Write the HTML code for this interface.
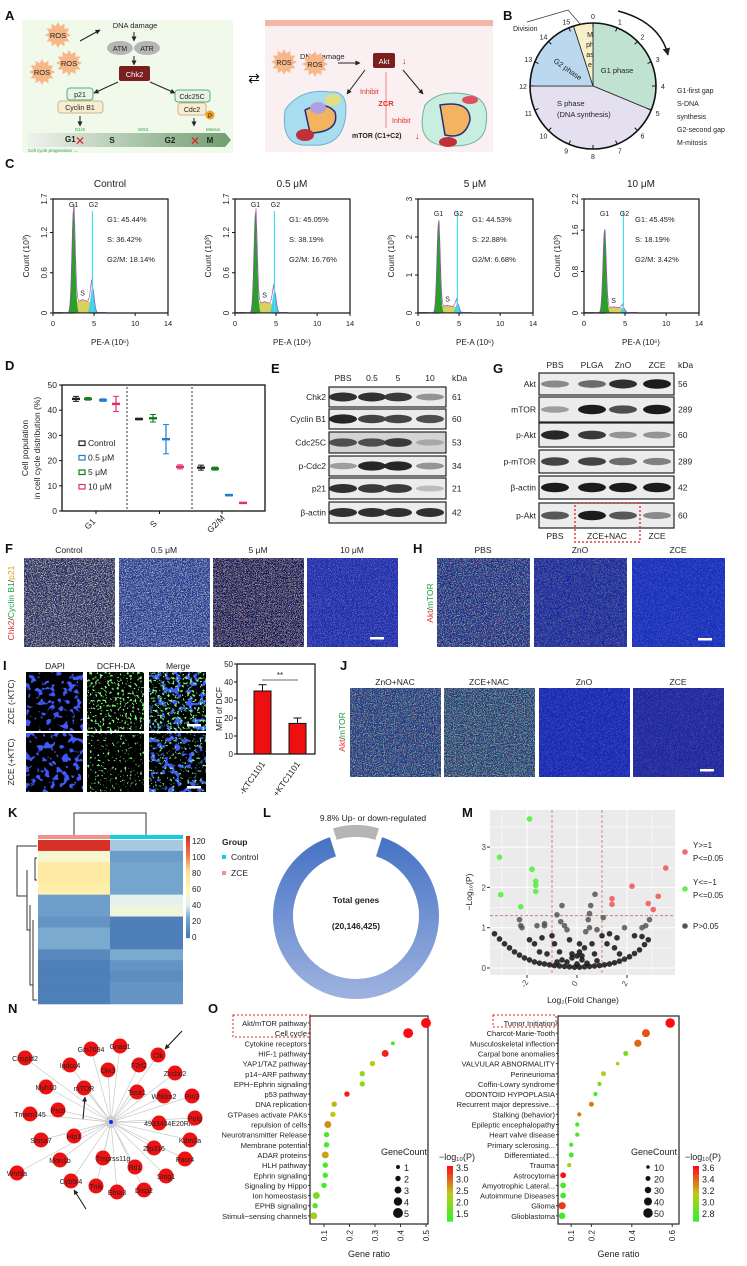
<!DOCTYPE html>
<html><head><meta charset="utf-8"><style>
html,body{margin:0;padding:0;background:#fff}
svg{display:block;font-family:"Liberation Sans",sans-serif}
</style></head><body>
<svg id="fig" width="747" height="1266" viewBox="0 0 747 1266" xmlns="http://www.w3.org/2000/svg">
<defs>
<marker id="ar" viewBox="0 0 10 10" refX="9" refY="5" markerWidth="5" markerHeight="5" orient="auto"><path d="M0,0L10,5L0,10z" fill="#222"/></marker>
</defs>
<g id="root"></g>
</svg>
<script>
// ---------------- DATA ----------------
const flowConds=["Control","0.5 μM","5 μM","10 μM"];
const flowG1=[1.55,1.5,2.4,1.6];
const flowG2=[0.38,0.33,0.25,0.1];
const flowS=[0.2,0.17,0.2,0.12];
const flowYMax=[1.7,1.7,3.0,2.2];
const flowYTicks=[[0,0.6,1.2,1.7],[0,0.6,1.2,1.7],[0,1.0,2.0,3.0],[0,0.8,1.6,2.2]];
const flowStats=[["G1: 45.44%","S: 36.42%","G2/M: 18.14%"],["G1: 45.05%","S: 38.19%","G2/M: 16.76%"],["G1: 44.53%","S: 22.88%","G2/M: 6.68%"],["G1: 45.45%","S: 18.19%","G2/M: 3.42%"]];
const flowXTicks=[0,5,10,14];

const dPhases=["G1","S","G2/M"];
const dGroups=["Control","0.5 μM","5 μM","10 μM"];
const dMeanG1=[44.5,44.5,44.0,42.5];
const dErrG1=[1.0,0.5,0.5,3.0];
const dMeanS=[36.5,36.8,28.5,17.5];
const dErrS=[0.3,1.5,5.8,0.8];
const dMeanG2=[17.2,16.8,6.3,3.2];
const dErrG2=[1.0,0.6,0.3,0.2];
const dOrderColors=["#222","#1a7a1a","#1f7fd0","#e0306a"];
const dYTicks=[0,10,20,30,40,50];

const eLanes=["PBS","0.5","5","10"];
const eRows=["Chk2","Cyclin B1","Cdc25C","p-Cdc2","p21","β-actin"];
const eKda=["61","60","53","34","21","42"];
const eBands=[[0.9,0.9,0.85,0.4],[0.95,0.8,0.8,0.75],[0.75,0.75,0.85,0.3],[0.35,0.95,0.95,0.4],[0.9,0.85,0.85,0.2],[0.9,0.9,0.9,0.9]];
const gLanes=["PBS","PLGA","ZnO","ZCE"];
const gRows=["Akt","mTOR","p-Akt","p-mTOR","β-actin","p-Akt"];
const gKda=["56","289","60","289","42","60"];
const gBands=[[0.45,0.6,0.9,1.0],[0.35,1.0,0.75,1.0],[0.95,0.85,0.4,0.4],[0.8,0.8,0.6,0.5],[1,1,1,1],[0.7,1.0,0.7,0.45]];

const iCats=["-KTC1101","+KTC1101"];
const iVals=[35,17];
const iErrs=[3.5,3];
const iTicks=[0,10,20,30,40,50];

const kZCE=[120,50,70,70,66,22,22,16,26,26,10,5,5,5,5];
const kCtrl=[32,20,25,25,25,42,48,5,5,5,26,16,12,16,16];
const kTicks=[0,20,40,60,80,100,120];

const lUpFrac=0.098;

const mGreenX=[-3.1,-3.05,-1.9,-1.8,-1.65,-1.65,-1.65,-2.25];
const mGreenY=[2.75,1.82,3.7,2.45,2.15,2.05,1.9,1.52];
const mRedX=[1.4,1.4,2.2,3.55,3.25,2.85,3.05];
const mRedY=[1.72,1.58,2.03,2.48,1.78,1.6,1.45];
const mGrayX=[-2.3,-2.25,-2.2,-1.6,-1.3,-1.3,-0.8,-0.65,-0.5,-0.4,-0.6,0.5,0.45,0.55,0.72,1.05,0.5,0.35,0.8,1.0,1.3,1.6,1.9,2.3,2.6,2.9,2.75,2.6,-1.9,-1.7,-1.4,-1.0,-0.9,-0.3,0.1,0.3,0.6,1.2,1.5,-1.5,-1.2,-0.7,-0.2,0.2,0.7,1.7,-3.3,-3.1,-2.9,-2.7,-2.5,-2.3,-2.1,-1.9,-1.7,-1.5,-1.3,-1.1,-0.9,-0.7,-0.5,-0.3,-0.1,0.1,0.3,0.5,0.7,0.9,1.1,1.3,1.5,1.7,1.9,2.1,2.3,2.5,2.7,2.85,-0.4,0,0.2,-0.2,0.4,-0.6,0.1,0,-0.8,0.8];
const mGrayY=[1.2,1.05,1.0,1.05,1.1,1.05,1.32,1.15,1.05,0.95,1.55,1.35,1.2,1.55,1.83,1.25,1.0,0.9,0.95,0.8,0.85,0.75,1.0,0.8,1.0,1.2,1.05,0.78,0.7,0.6,0.75,0.8,0.6,0.7,0.6,0.5,0.6,0.6,0.5,0.4,0.35,0.4,0.35,0.3,0.35,0.35,0.85,0.72,0.6,0.5,0.4,0.32,0.25,0.2,0.15,0.12,0.1,0.08,0.06,0.05,0.04,0.03,0.02,0.02,0.03,0.04,0.05,0.06,0.08,0.1,0.13,0.17,0.22,0.28,0.36,0.45,0.58,0.7,0.15,0.1,0.2,0.25,0.12,0.2,0.4,0.3,0.15,0.18];
const mYTicks=[0,1,2,3];
const mXTicks=[-2,0,2];

const nCenter=[111,1122];
const nNames=["Crispld2","Igdcc4","Gm7694","Gnao1","Clk","F2rl2","Dlx3","Zcchc2","Myh10","mTOR","Tssk1","Wfikkn2","Rin3","Tmem145","Prcb","4933434E20Rik","Polg","Shisa7","Hip1","Kdm2a","Zfp316","Pacr4","Mon1b","Tmprss11g","Rtl1","Wnt9a","Sntg1","Cyb5r4","Tnik","Efna3","Disp2"];
const nX=[25,70,91,120,158,139,108,175,46,84,137,164,192,30,58,159,195,41,74,190,154,185,60,103,135,17,166,71,96,117,144];
const nY=[1058,1065,1049,1046,1055,1065,1070,1073,1087,1088,1092,1096,1096,1114,1110,1123,1118,1140,1136,1140,1148,1159,1160,1158,1167,1173,1176,1181,1186,1192,1190];

const o1Terms=["Akt/mTOR pathway","Cell cycle","Cytokine receptors","HIF-1 pathway","YAP1/TAZ pathway","p14−ARF pathway","EPH−Ephrin signaling","p53 pathway","DNA replication","GTPases activate PAKs","repulsion of cells","Neurotransmitter Release","Membrane potential","ADAR proteins","HLH pathway","Ephrin signaling","Signaling by Hippo","Ion homeostasis","EPHB signaling","Stimuli−sensing channels"];
const o1Ratio=[0.5,0.43,0.37,0.34,0.29,0.25,0.25,0.19,0.14,0.135,0.115,0.11,0.11,0.105,0.105,0.105,0.10,0.07,0.065,0.06];
const o1Count=[5,5,1,3,2,2,2,2,2,2,3,2,2,3,2,2,2,3,2,3];
const o1P=[3.5,3.5,1.6,3.4,2.5,2.2,2.2,3.4,2.6,2.5,2.8,1.6,1.6,2.7,1.6,1.6,1.6,2.0,1.7,2.3];
const o1XTicks=[0.1,0.2,0.3,0.4,0.5];
const o1Leg=[1,2,3,4,5];
const o1CLabels=["3.5","3.0","2.5","2.0","1.5"];
const o2Terms=["Tumor Initiation","Charcot-Marie-Tooth","Musculoskeletal inflection","Carpal bone anomalies","VALVULAR ABNORMALITY","Perineurioma","Coffin-Lowry syndrome","ODONTOID HYPOPLASIA","Recurrent major depressive...","Stalking (behavior)","Epileptic encephalopathy","Heart valve disease","Primary sclerosing...","Differentiated...","Trauma","Astrocytoma","Amyotrophic Lateral...","Autoimmune Diseases","Glioma","Glioblastoma"];
const o2Ratio=[0.59,0.47,0.43,0.37,0.33,0.26,0.24,0.22,0.2,0.14,0.13,0.13,0.1,0.1,0.09,0.06,0.06,0.06,0.055,0.055];
const o2Count=[50,40,35,20,10,20,15,15,20,15,15,15,15,20,15,25,25,25,35,30];
const o2P=[3.6,3.45,3.4,3.0,3.1,3.2,3.0,2.85,3.35,3.35,2.85,2.85,2.85,2.85,3.1,3.6,2.85,2.85,3.5,2.85];
const o2XTicks=[0.1,0.2,0.4,0.6];
const o2Leg=[10,20,30,40,50];
const o2CLabels=["3.6","3.4","3.2","3.0","2.8"];

// ---------------- HELPERS ----------------
const NS="http://www.w3.org/2000/svg";
const root=document.getElementById('root');
function mk(tag,attrs,parent){const e=document.createElementNS(NS,tag);for(const k in attrs)e.setAttribute(k,attrs[k]);(parent||root).appendChild(e);return e;}
function tx(x,y,s,size,opt,parent){opt=opt||{};const e=mk('text',{x:x,y:y,'font-size':size,fill:opt.fill||'#222','text-anchor':opt.anchor||'start','font-weight':opt.bold?'bold':'normal'},parent);if(opt.rot!==undefined)e.setAttribute('transform','rotate('+opt.rot+' '+x+' '+y+')');e.textContent=s;return e;}
function panelLetter(x,y,s){const e=tx(x,y,s,13,{bold:true,fill:'#111'});

}
const defs=document.querySelector('defs');
let fid=0;
function noiseFilter(freq,seed,r,g,b,a,t){const id='nf'+(fid++);const f=mk('filter',{id:id,x:0,y:0,width:1,height:1},defs);mk('feTurbulence',{type:'fractalNoise',baseFrequency:freq,numOctaves:2,seed:seed},f);mk('feColorMatrix',{type:'matrix',values:'0 0 0 0 '+r+' 0 0 0 0 '+g+' 0 0 0 0 '+b+' '+a+' 0 0 0 '+(-t)},f);return id;}
function micro(x,y,w,h,base,layers,name){const g=mk('g',{});


mk('rect',{x:x,y:y,width:w,height:h,fill:base},g);layers.forEach((L,i)=>{const id=noiseFilter(L[0],L[1]+i*7,L[2],L[3],L[4],L[5],L[6]);mk('rect',{x:x,y:y,width:w,height:h,fill:'#fff',filter:'url(#'+id+')','opacity':L[7]===undefined?0.85:L[7]},g);});return g;}
function scaleBar(x,y){mk('rect',{x:x,y:y,width:14,height:2.5,fill:'#fff'});}
function pColor(v,lo,hi){const t=Math.max(0,Math.min(1,(v-lo)/(hi-lo)));let r,g,b;if(t<0.5){const u=t/0.5;r=50+u*(190-50);g=240-u*40;b=40-u*20;}else{const u=(t-0.5)/0.5;r=190+u*65;g=200-u*190;b=20;}return 'rgb('+(r|0)+','+(g|0)+','+(b|0)+')';}
function heatColor(v){const stops=[[0,[69,117,180]],[25,[116,165,205]],[40,[225,240,245]],[55,[254,250,190]],[80,[254,224,144]],[100,[244,109,67]],[120,[215,48,39]]];for(let i=1;i<stops.length;i++){if(v<=stops[i][0]){const a=stops[i-1],b=stops[i];const u=(v-a[0])/(b[0]-a[0]);return 'rgb('+[0,1,2].map(k=>Math.round(a[1][k]+u*(b[1][k]-a[1][k]))).join(',')+')';}}return 'rgb(215,48,39)';}

// ---------------- PANEL A ----------------
panelLetter(5,20,"A");
(function(){
const g=mk('g',{});


mk('rect',{x:22,y:20,width:211,height:133,fill:'#f1f9ea'},g);
function ros(x,y){const pts=[];for(let i=0;i<24;i++){const r=i%2?9:13;const a=i*Math.PI/12;pts.push((x+r*Math.cos(a)).toFixed(1)+','+(y+r*Math.sin(a)).toFixed(1));}mk('polygon',{points:pts.join(' '),fill:'#f7b889'},g);tx(x,y+3,'ROS',7.5,{anchor:'middle'},g);}
ros(58,35);ros(42,72);ros(69,63);
tx(135,28,'DNA damage',7.5,{anchor:'middle'},g);
mk('line',{x1:80,y1:41,x2:100,y2:30,stroke:'#222','marker-end':'url(#ar)'},g);
mk('line',{x1:134,y1:32,x2:134,y2:41,stroke:'#222','marker-end':'url(#ar)'},g);
mk('ellipse',{cx:120,cy:48,rx:13,ry:7,fill:'#b5b5b5'},g);tx(120,51,'ATM',7,{anchor:'middle'},g);
mk('ellipse',{cx:147,cy:48,rx:13,ry:7,fill:'#b5b5b5'},g);tx(147,51,'ATR',7,{anchor:'middle'},g);
mk('line',{x1:134,y1:56,x2:134,y2:65,stroke:'#222','marker-end':'url(#ar)'},g);
mk('rect',{x:119,y:66,width:31,height:15,rx:2,fill:'#7a1f1f'},g);tx(134.5,77,'Chk2',7.5,{anchor:'middle',fill:'#fff'},g);
mk('line',{x1:118,y1:82,x2:94,y2:93,stroke:'#222','marker-end':'url(#ar)'},g);
mk('line',{x1:150,y1:82,x2:175,y2:93,stroke:'#222','marker-end':'url(#ar)'},g);
mk('rect',{x:67,y:88,width:26,height:12,rx:3,fill:'#e6f5e6',stroke:'#5aa97a'},g);tx(80,97,'p21',7,{anchor:'middle'},g);
mk('rect',{x:58,y:101,width:45,height:12,rx:3,fill:'#f7edd3',stroke:'#c8b890'},g);tx(80,110,'Cyclin B1',7,{anchor:'middle'},g);
mk('rect',{x:175,y:90,width:35,height:12,rx:3,fill:'#e6f5e6',stroke:'#5aa97a'},g);tx(192,99,'Cdc25C',7,{anchor:'middle'},g);
mk('rect',{x:178,y:103,width:28,height:12,rx:3,fill:'#f7edd3',stroke:'#c8b890'},g);tx(192,112,'Cdc2',7,{anchor:'middle'},g);
mk('circle',{cx:210,cy:115,r:4.5,fill:'#f0a020'},g);tx(210,118,'P',6,{anchor:'middle'},g);
mk('line',{x1:80,y1:116,x2:80,y2:126,stroke:'#222','marker-end':'url(#ar)'},g);
mk('line',{x1:194,y1:118,x2:194,y2:126,stroke:'#222','marker-end':'url(#ar)'},g);
const gr=mk('linearGradient',{id:'cyc'},defs);mk('stop',{offset:'0','stop-color':'#f0f3ee'},gr);mk('stop',{offset:'1','stop-color':'#6f9e6f'},gr);
mk('polygon',{points:'27,133 225,133 231,140 225,147 27,147',fill:'url(#cyc)'},g);
tx(65,142,'G1',8,{bold:true},g);tx(112,143,'S',8,{bold:true,anchor:'middle'},g);tx(170,143,'G2',8,{bold:true,anchor:'middle'},g);tx(210,143,'M',8,{bold:true,anchor:'middle'},g);
tx(80,131,'G1/S',4.5,{fill:'#2a9a4a',anchor:'middle'},g);tx(143,131,'S/G2',4.5,{fill:'#2a9a4a',anchor:'middle'},g);tx(213,131,'Mitosis',4.5,{fill:'#2a9a4a',anchor:'middle'},g);
tx(80,145,'✕',12,{fill:'#e02020',anchor:'middle'},g);tx(195,145,'✕',12,{fill:'#e02020',anchor:'middle'},g);
tx(28,152,'Cell cycle progression →',4.5,{fill:'#2a9a4a'},g);
tx(254,83,'⇄',14,{anchor:'middle',fill:'#111'},g);
mk('rect',{x:265,y:20,width:228,height:132,fill:'#fbf0f1'},g);
mk('rect',{x:265,y:20,width:228,height:6,fill:'#f3b6a8'},g);
tx(300,59,'DNA damage',7.5,{},g);
mk('line',{x1:338,y1:63,x2:360,y2:63,stroke:'#222','marker-end':'url(#ar)'},g);
mk('rect',{x:373,y:53,width:22,height:15,rx:2,fill:'#7a1f1f'},g);tx(384,64,'Akt',7.5,{anchor:'middle',fill:'#fff'},g);
tx(402,64,'↓',9,{fill:'#e02020'},g);
(function(){const pts=[];for(let i=0;i<24;i++){const r=i%2?9:13;const a=i*Math.PI/12;pts.push((284+r*Math.cos(a)).toFixed(1)+','+(62+r*Math.sin(a)).toFixed(1));}mk('polygon',{points:pts.join(' '),fill:'#f7b889'},g);const p2=[];for(let i=0;i<24;i++){const r=i%2?9:13;const a=i*Math.PI/12;p2.push((315+r*Math.cos(a)).toFixed(1)+','+(64+r*Math.sin(a)).toFixed(1));}mk('polygon',{points:p2.join(' '),fill:'#f7b889'},g);})();
tx(284,65,'ROS',7,{anchor:'middle'},g);tx(315,67,'ROS',7,{anchor:'middle'},g);
mk('line',{x1:365,y1:70,x2:347,y2:94,stroke:'#222','marker-end':'url(#ar)'},g);
mk('line',{x1:403,y1:70,x2:423,y2:94,stroke:'#222','marker-end':'url(#ar)'},g);
mk('line',{x1:386,y1:72,x2:386,y2:128,stroke:'#f08080'},g);
tx(360,94,'Inhibit',7,{fill:'#e03030'},g);tx(386,106,'ZCR',7.5,{fill:'#e03030',anchor:'middle',bold:true},g);tx(392,123,'Inhibit',7,{fill:'#e03030'},g);
tx(352,138,'mTOR (C1+C2)',7,{bold:true},g);tx(415,139,'↓',9,{fill:'#e02020'},g);
mk('path',{d:'M285,110 Q300,88 330,92 Q350,90 345,120 Q340,148 310,145 Q280,148 285,110z',fill:'#a8dcef',stroke:'#6fb0d0'},g);
mk('path',{d:'M305,110 Q325,100 335,112 Q340,132 310,133z',fill:'#f4b35e',stroke:'#203080','stroke-width':1.5},g);
mk('ellipse',{cx:305,cy:135,rx:9,ry:6,fill:'#c0303a'},g);mk('ellipse',{cx:333,cy:100,rx:8,ry:6,fill:'#e0e080'},g);
mk('ellipse',{cx:318,cy:108,rx:8,ry:6,fill:'#b0a0e0'},g);
mk('path',{d:'M425,105 Q440,88 470,95 Q492,100 485,130 Q478,150 440,145 Q415,140 425,105z',fill:'#c8eedf',stroke:'#6fb0a0'},g);
mk('path',{d:'M440,105 Q470,100 470,120 Q465,140 445,135z',fill:'#f4b35e',stroke:'#203080','stroke-width':1.5},g);
mk('ellipse',{cx:448,cy:142,rx:9,ry:5,fill:'#c0303a'},g);mk('ellipse',{cx:470,cy:100,rx:8,ry:4,fill:'#e05060'},g);
})();

// ---------------- PANEL B ----------------
panelLetter(503,20,"B");
(function(){
const g=mk('g',{});


const cx=593,cy=86,r=63;
function pt(h,rr){const a=h/16*2*Math.PI-Math.PI/2;return [cx+rr*Math.cos(a),cy+rr*Math.sin(a)];}
function wedge(h0,h1,fill){const p0=pt(h0,r),p1=pt(h1,r);const large=(h1-h0)>8?1:0;mk('path',{d:'M'+cx+','+cy+' L'+p0[0]+','+p0[1]+' A'+r+','+r+' 0 '+large+' 1 '+p1[0]+','+p1[1]+'z',fill:fill,stroke:'#222','stroke-width':0.8},g);}
wedge(0,5,'#bfe3d0');wedge(5,12,'#e4e0f0');wedge(12,15.2,'#bcd8ee');wedge(15.2,16,'#f6efc9');
mk('circle',{cx:cx,cy:cy,r:r,fill:'none',stroke:'#111','stroke-width':1.6},g);
for(let h=0;h<16;h++){const a=pt(h,r),b=pt(h,r-4),c=pt(h,r+7);mk('line',{x1:a[0],y1:a[1],x2:b[0],y2:b[1],stroke:'#111'},g);tx(c[0],c[1]+3,String(h),7,{anchor:'middle'},g);}
tx(617,73,'G1 phase',7.5,{anchor:'middle'},g);tx(557,106,'S phase',7.5,{},g);tx(557,117,'(DNA synthesis)',7.5,{},g);
tx(553,62,'G2 phase',7.5,{rot:35},g);
tx(590,37,'M',7,{anchor:'middle'},g);tx(590,47,'ph',7,{anchor:'middle'},g);tx(590,57,'as',7,{anchor:'middle'},g);tx(590,67,'e',7,{anchor:'middle'},g);
tx(513,31,'Division',7,{},g);mk('polyline',{points:'527,22 568,10 581,25',fill:'none',stroke:'#333','stroke-width':0.7},g);
mk('path',{d:'M618,11 Q660,22 668,55',fill:'none',stroke:'#111','stroke-width':1.5,'marker-end':'url(#ar)'},g);
['G1-first gap','S-DNA','synthesis','G2-second gap','M-mitosis'].forEach((s,i)=>tx(677,93+i*13,s,7,{},g));
})();

// ---------------- PANEL C ----------------
panelLetter(5,168,"C");
const cX0=[53,235,418,584],cW=115,cTop=199,cBot=313;
flowConds.forEach((cond,i)=>{
const g=mk('g',{});


const x0=cX0[i];const sx=v=>x0+v/14*cW;const sy=v=>cBot-v/flowYMax[i]*(cBot-cTop);
tx(x0+57,187,cond,10,{anchor:'middle'},g);
mk('rect',{x:x0,y:cTop,width:cW,height:cBot-cTop,fill:'none',stroke:'#111','stroke-width':1.2},g);
flowYTicks[i].forEach(t=>{const y=sy(t);mk('line',{x1:x0-3,y1:y,x2:x0,y2:y,stroke:'#111'},g);tx(x0-6,y,String(t),8,{anchor:'middle',rot:-90},g);});
tx(x0-24,256,'Count (10³)',8.5,{anchor:'middle',rot:-90},g);
flowXTicks.forEach(t=>{const x=sx(t);mk('line',{x1:x,y1:cBot,x2:x,y2:cBot+3,stroke:'#111'},g);tx(x,326,String(t),7.5,{anchor:'middle'},g);});
tx(x0+57,345,'PE-A (10⁶)',8,{anchor:'middle'},g);
let pG1='M'+sx(1.8)+','+cBot,pS='M'+sx(2.6)+','+cBot,pG2='M'+sx(4.2)+','+cBot,pAll='M'+sx(1.2)+','+cBot;
for(let v=1.2;v<=6.5;v+=0.04){const g1=flowG1[i]*Math.exp(-Math.pow((v-2.5)/0.2,2)/2);const g2=flowG2[i]*Math.exp(-Math.pow((v-4.8)/0.22,2)/2);const s=(v>2.55&&v<4.75)?flowS[i]*(1-0.3*Math.abs(v-3.6)/1.2):0;
if(v>=1.8&&v<=3.3)pG1+=' L'+sx(v)+','+sy(g1);if(v>=2.6&&v<=4.7)pS+=' L'+sx(v)+','+sy(s);if(v>=4.2&&v<=5.4)pG2+=' L'+sx(v)+','+sy(g2);pAll+=' L'+sx(v)+','+sy(g1+g2+s);}
mk('path',{d:pS+' L'+sx(4.7)+','+cBot+'z',fill:'#d8d060',stroke:'#b0a030','stroke-width':0.5},g);
mk('path',{d:pG1+' L'+sx(3.3)+','+cBot+'z',fill:'#2aa02a'},g);
mk('path',{d:pG2+' L'+sx(5.4)+','+cBot+'z',fill:'#40d0e0'},g);
mk('path',{d:pAll,fill:'none',stroke:'#a040c0','stroke-width':0.6},g);
mk('line',{x1:sx(4.8),y1:cBot,x2:sx(4.8),y2:cTop+12,stroke:'#40e0f0','stroke-width':1.2},g);
mk('line',{x1:x0,y1:cBot-0.5,x2:sx(6.5),y2:cBot-0.5,stroke:'#333','stroke-width':0.8},g);
tx(sx(2.5),cTop+8+(flowYMax[i]>2?9:0),'G1',7,{anchor:'middle'},g);tx(sx(4.8)+1,cTop+8+(flowYMax[i]>2?9:0),'G2',7,{anchor:'middle'},g);
tx(sx(3.6),sy(flowS[i])-4,'S',7,{anchor:'middle'},g);
flowStats[i].forEach((s,k)=>tx(x0+54+(i==3?-3:0),222+k*20,s,7.5,{},g));
});

// ---------------- PANEL D ----------------
panelLetter(5,370,"D");
(function(){
const g=mk('g',{});


const x0=62,x1=265,yT=385,yB=511;const sy=v=>yB-v/50*(yB-yT);
const groupX=[[76,88,103,116],[139,153,166,180],[201,215,229,243]];
const means=[dMeanG1,dMeanS,dMeanG2],errs=[dErrG1,dErrS,dErrG2];
mk('rect',{x:x0,y:yT,width:x1-x0,height:yB-yT,fill:'none',stroke:'#111','stroke-width':1.3},g);
dYTicks.forEach(t=>{const y=sy(t);mk('line',{x1:x0-3,y1:y,x2:x0,y2:y,stroke:'#111'},g);tx(x0-5,y+3,String(t),8.5,{anchor:'end'},g);});
tx(28,448,'Cell population',8.5,{anchor:'middle',rot:-90},g);tx(40,448,'in cell cycle distribution (%)',8.5,{anchor:'middle',rot:-90},g);
mk('line',{x1:127,y1:yT+2,x2:127,y2:yB,stroke:'#333','stroke-dasharray':'2,2'},g);
mk('line',{x1:192,y1:yT+2,x2:192,y2:yB,stroke:'#333','stroke-dasharray':'2,2'},g);
dPhases.forEach((p,pi)=>{const cx=(groupX[pi][0]+groupX[pi][3])/2;mk('line',{x1:cx,y1:yB,x2:cx,y2:yB+3,stroke:'#111'},g);tx(cx-4,yB+15,p,8.5,{anchor:'middle',rot:-45},g);
means[pi].forEach((m,k)=>{const x=groupX[pi][k];const c=dOrderColors[k];const e=mk('g',{},g);


mk('line',{x1:x,y1:sy(m-errs[pi][k]),x2:x,y2:sy(m+errs[pi][k]),stroke:c,'stroke-width':1.2},e);
mk('line',{x1:x-3,y1:sy(m-errs[pi][k]),x2:x+3,y2:sy(m-errs[pi][k]),stroke:c},e);mk('line',{x1:x-3,y1:sy(m+errs[pi][k]),x2:x+3,y2:sy(m+errs[pi][k]),stroke:c},e);
mk('rect',{x:x-4,y:sy(m)-1.2,width:8,height:2.4,fill:c},e);});});
const legC=["#222","#1f7fd0","#1a7a1a","#e0306a"];
dGroups.forEach((gname,k)=>{const y=446+k*14.5;mk('rect',{x:79,y:y-5,width:6,height:4.5,fill:'none',stroke:legC[k],'stroke-width':1.2},g);tx(88,y,gname,8.5,{},g);});
})();

// ---------------- PANEL E & G ----------------
function blot(name,bx,bw,rowsY,rowsH,lanesX,bands,labels,kda,labelX,kdaX,lanesNames,headY,bgDark){
const g=mk('g',{});


lanesNames.forEach((n,i)=>tx(lanesX[i],headY,n,8.5,{anchor:'middle'},g));
tx(kdaX,headY,'kDa',8.5,{},g);
rowsY.forEach((y,r)=>{const h=rowsH[r];mk('rect',{x:bx,y:y,width:bw,height:h,fill:bgDark[r]?'#d4d4d4':'#ececec',stroke:'#222','stroke-width':1.2},g);
bands[r].forEach((d,l)=>{const c=Math.round(228-d*200);mk('ellipse',{cx:lanesX[l],cy:y+h/2,rx:14,ry:2.5+d*2.2,fill:'rgb('+c+','+c+','+c+')'},g);});
tx(labelX,y+h/2+3,labels[r],8.5,{anchor:'end'},g);tx(kdaX,y+h/2+3,kda[r],8.5,{},g);});
return g;}
panelLetter(271,373,"E");
blot('western-blot-e',329,117,[387,409,432,456,478,502],[20,20,21,20,21,21],[343,372,398,430],eBands,eRows,eKda,326,452,eLanes,381,[0,0,1,0,0,0]);
panelLetter(493,373,"G");
blot('western-blot-g',539,135,[373,397,423,450,476,503],[22,25,24,23,23,25],[555,592,623,657],gBands,gRows,gKda,536,678,gLanes,368,[0,0,0,0,0,0]);
(function(){const g=mk('g',{});


tx(555,539,'PBS',8.5,{anchor:'middle'},g);tx(607,539,'ZCE+NAC',8.5,{anchor:'middle'},g);tx(657,539,'ZCE',8.5,{anchor:'middle'},g);
mk('rect',{x:575,y:503,width:65,height:39,fill:'none',stroke:'#e02020','stroke-width':1.3,'stroke-dasharray':'2,2'},g);})();

// ---------------- PANEL F / H ----------------
panelLetter(5,553,"F");
const fTitles=["Control","0.5 μM","5 μM","10 μM"],fX=[24,119,213,307];
const fLayers=[
 ['#2a2a60',[[0.9,1,0.9,0.85,0.3,8,4.3,0.8],[0.8,3,0.3,0.5,0.9,7,3.7,0.6]]],
 ['#2a3a90',[[0.9,2,0.9,0.85,0.3,8,4.6,0.75],[0.8,4,0.4,0.6,0.95,7,3.6,0.6]]],
 ['#0c1240',[[1.1,6,0.3,0.4,1,9,4.6,0.7],[1.2,8,0.9,0.8,0.2,9,5.3,0.7],[1.2,9,0.9,0.2,0.3,9,5.4,0.7]]],
 ['#1a2ea8',[[1.1,10,0.2,0.3,0.9,8,4.4,0.6],[1.2,11,0.8,0.2,0.4,9,5.5,0.6]]]];
fTitles.forEach((t,i)=>{tx(fX[i]+45,553,t,8.5,{anchor:'middle'});micro(fX[i],558,91,89,fLayers[i][0],fLayers[i][1],'if-image-f-'+i);});
scaleBar(370,637);
(function(){const t=mk('text',{x:14,y:603,'font-size':8.5,'text-anchor':'middle',transform:'rotate(-90 14 603)'});


t.innerHTML='<tspan fill="#e03030">Chk2</tspan><tspan fill="#222">/</tspan><tspan fill="#20a040">Cyclin B1</tspan><tspan fill="#222">/</tspan><tspan fill="#e0a020">p21</tspan>';})();
panelLetter(413,553,"H");
const hTitles=["PBS","ZnO","ZCE"],hX=[437,534,632];
const hLayers=[
 ['#1e3090',[[0.9,12,0.2,0.9,0.3,8,4.4,0.75],[0.9,13,0.95,0.15,0.15,8,4.6,0.75]]],
 ['#1a2aa0',[[1.0,14,0.2,0.9,0.3,9,5.4,0.6],[1.0,15,0.9,0.2,0.2,9,5.4,0.6]]],
 ['#1a30b8',[[1.0,16,0.3,0.4,1,8,4.6,0.5]]]];
hTitles.forEach((t,i)=>{tx(hX[i]+46,553,t,8.5,{anchor:'middle'});micro(hX[i],558,93,89,hLayers[i][0],hLayers[i][1],'if-image-h-'+i);});
scaleBar(698,638);
(function(){const t=mk('text',{x:433,y:603,'font-size':8.5,'text-anchor':'middle',transform:'rotate(-90 433 603)'});


t.innerHTML='<tspan fill="#e03030">Akt</tspan><tspan fill="#222">/</tspan><tspan fill="#20a040">mTOR</tspan>';})();

// ---------------- PANEL I ----------------
panelLetter(3,670,"I");
(function(){
const cols=["DAPI","DCFH-DA","Merge"],cx=[26,87,149];
cols.forEach((c,i)=>tx(cx[i]+29,669,c,8.5,{anchor:'middle'}));
const rowsY=[672,733];
rowsY.forEach((y,r)=>{
micro(cx[0],y,57,59,'#000',[[0.16,20+r,0.05,0.1,0.95,16,8.9,1]],'dapi-image-'+r);
micro(cx[1],y,57,59,'#000',[[0.4,30+r,0.2,0.95,0.2,r?9:12,r?5.6:7.0,1]],'dcf-image-'+r);
micro(cx[2],y,57,59,'#000',[[0.16,20+r,0.05,0.1,0.95,16,8.9,1],[0.4,30+r,0.2,0.95,0.2,r?9:12,r?5.6:7.0,1]],'merge-image-'+r);});
scaleBar(187,724);scaleBar(187,786);
tx(14,702,'ZCE (-KTC)',8.5,{anchor:'middle',rot:-90});tx(14,762,'ZCE (+KTC)',8.5,{anchor:'middle',rot:-90});
const g=mk('g',{});


const x0=237,x1=315,yT=664,yB=754;const sy=v=>yB-v/50*(yB-yT);const bx=[254,289],bw=17;
mk('polyline',{points:x0+','+yT+' '+x0+','+yB+' '+x1+','+yB+' '+x1+','+yT+' '+x0+','+yT,fill:'none',stroke:'#111','stroke-width':1.2},g);
iTicks.forEach(t=>{const y=sy(t);mk('line',{x1:x0-3,y1:y,x2:x0,y2:y,stroke:'#111'},g);tx(x0-4,y+3,String(t),8,{anchor:'end'},g);});
tx(222,709,'MFI of DCF',8.5,{anchor:'middle',rot:-90},g);
iCats.forEach((c,i)=>{const b=mk('rect',{x:bx[i],y:sy(iVals[i]),width:bw,height:yB-sy(iVals[i]),fill:'#ee1010',stroke:'#111'},g);


const xc=bx[i]+bw/2;mk('line',{x1:xc,y1:sy(iVals[i]),x2:xc,y2:sy(iVals[i]+iErrs[i]),stroke:'#111'},g);mk('line',{x1:xc-4,y1:sy(iVals[i]+iErrs[i]),x2:xc+4,y2:sy(iVals[i]+iErrs[i]),stroke:'#111'},g);
tx(xc+3,yB+10,c,8.5,{anchor:'end',rot:-55},g);});
mk('line',{x1:262,y1:680,x2:298,y2:680,stroke:'#888','stroke-width':1.2},g);tx(280,678,'**',8,{anchor:'middle'},g);
})();

// ---------------- PANEL J ----------------
panelLetter(340,670,"J");
const jTitles=["ZnO+NAC","ZCE+NAC","ZnO","ZCE"],jX=[350,444,539,633];
const jLayers=[
 ['#1e3a8a',[[0.9,40,0.2,0.85,0.3,8,4.3,0.7],[0.9,41,0.95,0.15,0.15,8,4.5,0.7]]],
 ['#1e3a80',[[0.9,42,0.2,0.85,0.3,8,4.1,0.7],[0.9,43,0.95,0.15,0.15,8,4.5,0.7]]],
 ['#1a2ab0',[[1.0,44,0.3,0.4,1,8,4.6,0.5]]],
 ['#1a28a0',[[1.0,45,0.1,0.1,0.5,8,4.6,0.6],[1.0,46,0.9,0.2,0.2,9,5.6,0.5]]]];
jTitles.forEach((t,i)=>{tx(jX[i]+45,685,t,8.5,{anchor:'middle'});micro(jX[i],688,91,89,jLayers[i][0],jLayers[i][1],'if-image-j-'+i);});
scaleBar(700,769);
(function(){const t=mk('text',{x:345,y:732,'font-size':8.5,'text-anchor':'middle',transform:'rotate(-90 345 732)'});


t.innerHTML='<tspan fill="#e03030">Akt</tspan><tspan fill="#222">/</tspan><tspan fill="#20a040">mTOR</tspan>';})();

// ---------------- PANEL K ----------------
panelLetter(8,817,"K");
(function(){
const g=mk('g',{});


const x0=38,xm=110,x1=183,y0=840,rh=(1004-840)/kZCE.length;
mk('rect',{x:x0,y:835,width:xm-x0,height:4,fill:'#f4928a'},g);mk('rect',{x:xm,y:835,width:x1-xm,height:4,fill:'#10d0e0'},g);
kZCE.forEach((v,i)=>{const c1=mk('rect',{x:x0,y:y0+i*rh,width:xm-x0,height:rh+0.3,fill:heatColor(v)},g);


const c2=mk('rect',{x:xm,y:y0+i*rh,width:x1-xm,height:rh+0.3,fill:heatColor(kCtrl[i])},g);

});
mk('polyline',{points:'74,835 74,813 146,813 146,835',fill:'none',stroke:'#333'},g);
mk('polyline',{points:'37,846 17,846 17,896 27,896',fill:'none',stroke:'#333'},g);
mk('polyline',{points:'37,858 35,858 35,880 37,880',fill:'none',stroke:'#333'},g);
mk('polyline',{points:'27,870 27,930 30,930',fill:'none',stroke:'#333'},g);
mk('polyline',{points:'30,905 30,985 33,985',fill:'none',stroke:'#333'},g);
mk('polyline',{points:'33,920 33,1000 37,1000',fill:'none',stroke:'#333'},g);
for(let k=0;k<40;k++){const y=836+k*2.55;mk('rect',{x:186,y:y,width:4,height:2.7,fill:heatColor(120-k*3)},g);}
kTicks.forEach(t=>tx(192,937-t/120*96+3,String(t),8,{},g));
tx(222,845,'Group',8.5,{bold:true},g);
mk('rect',{x:222,y:855,width:4,height:4,fill:'#10d0e0'},g);tx(231,860,'Control',8.5,{},g);
mk('rect',{x:222,y:871,width:4,height:4,fill:'#f4928a'},g);tx(231,876,'ZCE',8.5,{},g);
})();

// ---------------- PANEL L ----------------
panelLetter(263,817,"L");
(function(){
const g=mk('g',{});


const cx=356,cy=916,R=84,r=62;
const lg=mk('linearGradient',{id:'dn',x1:0,y1:0,x2:0,y2:1},defs);mk('stop',{offset:'0','stop-color':'#4472c4'},lg);mk('stop',{offset:'1','stop-color':'#9fb3e0'},lg);
function arc(a0,a1,R1,r1,fill,off,name){const ox=off*Math.sin((a0+a1)/2),oy=-off*Math.cos((a0+a1)/2);const p=(a,rr)=>[cx+ox+rr*Math.sin(a),cy+oy-rr*Math.cos(a)];const large=(a1-a0)>Math.PI?1:0;const A=p(a0,R1),B=p(a1,R1),C=p(a1,r1),D=p(a0,r1);
const e=mk('path',{d:'M'+A+' A'+R1+','+R1+' 0 '+large+' 1 '+B+' L'+C+' A'+r1+','+r1+' 0 '+large+' 0 '+D+'z',fill:fill,stroke:'#fff','stroke-width':2},g);

}
const ang=lUpFrac*2*Math.PI;
arc(ang/2,2*Math.PI-ang/2,R,r,'url(#dn)',0,'slice-unchanged');
arc(-ang/2,ang/2,R-4,r+4,'#b5b5b5',12,'slice-regulated');
tx(373,821,'9.8% Up- or down-regulated',8.5,{anchor:'middle'},g);
tx(356,903,'Total genes',8.5,{anchor:'middle',bold:true},g);tx(356,929,'(20,146,425)',8.5,{anchor:'middle',bold:true},g);
})();

// ---------------- PANEL M ----------------
panelLetter(462,817,"M");
(function(){
const g=mk('g',{});


const x0=490,x1=675,yT=810,yB=975;const sx=v=>577+v*25;const sy=v=>968-v*40.3;
mk('rect',{x:x0,y:yT,width:x1-x0,height:yB-yT,fill:'#ebebeb'},g);
[-3,-2,-1,0,1,2,3].forEach(v=>mk('line',{x1:sx(v),y1:yT,x2:sx(v),y2:yB,stroke:'#fff','stroke-width':v%2?0.5:1},g));
[0,0.5,1,1.5,2,2.5,3,3.5].forEach(v=>mk('line',{x1:x0,y1:sy(v),x2:x1,y2:sy(v),stroke:'#fff','stroke-width':v%1?0.5:1},g));
mk('line',{x1:sx(-1),y1:yT,x2:sx(-1),y2:yB,stroke:'#d08080','stroke-dasharray':'3,2'},g);
mk('line',{x1:sx(1),y1:yT,x2:sx(1),y2:yB,stroke:'#d08080','stroke-dasharray':'3,2'},g);
mk('line',{x1:x0,y1:sy(1.3),x2:x1,y2:sy(1.3),stroke:'#d08080','stroke-dasharray':'3,2'},g);
mGrayX.forEach((v,i)=>{const c=mk('circle',{cx:sx(v),cy:sy(mGrayY[i]),r:2.8,fill:mGrayY[i]<0.9?'#111':'#555','fill-opacity':0.85},g);

});
mGreenX.forEach((v,i)=>{const c=mk('circle',{cx:sx(v),cy:sy(mGreenY[i]),r:2.8,fill:'#66ee55'},g);

});
mRedX.forEach((v,i)=>{const c=mk('circle',{cx:sx(v),cy:sy(mRedY[i]),r:2.8,fill:'#f06a6a'},g);

});
mYTicks.forEach(t=>{mk('line',{x1:x0-3,y1:sy(t),x2:x0,y2:sy(t),stroke:'#333'},g);tx(x0-4,sy(t)+3,String(t),8,{anchor:'end',fill:'#444'},g);});
mXTicks.forEach(t=>{mk('line',{x1:sx(t),y1:yB,x2:sx(t),y2:yB+3,stroke:'#333'},g);tx(sx(t),yB+10,String(t),8,{anchor:'middle',fill:'#444',rot:-60},g);});
tx(472,892,'−Log₁₀(P)',8.5,{anchor:'middle',rot:-90},g);
tx(583,1003,'Log₂(Fold Change)',8.5,{anchor:'middle'},g);
mk('circle',{cx:685,cy:852,r:2.8,fill:'#f06a6a'},g);tx(693,848,'Y>=1',8,{},g);tx(693,861,'P<=0.05',8,{},g);
mk('circle',{cx:685,cy:889,r:2.8,fill:'#66ee55'},g);tx(693,885,'Y<=−1',8,{},g);tx(693,898,'P<=0.05',8,{},g);
mk('circle',{cx:685,cy:926,r:2.8,fill:'#555'},g);tx(693,929,'P>0.05',8,{},g);
})();

// ---------------- PANEL N ----------------
panelLetter(8,1013,"N");
(function(){
const g=mk('g',{});


nX.forEach((x,i)=>mk('line',{x1:nCenter[0],y1:nCenter[1],x2:x,y2:nY[i],stroke:'#c8c8c8','stroke-width':0.7},g));
mk('circle',{cx:nCenter[0],cy:nCenter[1],r:6,fill:'#ccc'},g);mk('circle',{cx:nCenter[0],cy:nCenter[1],r:2,fill:'#1030e0'},g);
nNames.forEach((n,i)=>{const c=mk('circle',{cx:nX[i],cy:nY[i],r:7.5,fill:'#ee1111'},g);


tx(nX[i]+(n.length>8?10:0),nY[i]+3,n,7,{anchor:'middle',fill:'#222'},g);});
mk('line',{x1:182,y1:1031,x2:165,y2:1049,stroke:'#111','marker-end':'url(#ar)'},g);
mk('line',{x1:83,y1:1119,x2:85,y2:1097,stroke:'#111','marker-end':'url(#ar)'},g);
mk('line',{x1:86,y1:1209,x2:74,y2:1190,stroke:'#111','marker-end':'url(#ar)'},g);
})();

// ---------------- PANEL O ----------------
panelLetter(208,1013,"O");
function dotPlot(name,terms,ratio,count,pv,fx0,fx1,x0px,pxPer,xticks,rScale,leg,cLabels,pLo,pHi,legX,cbX,box){
const g=mk('g',{});


const yT=1016,yB=1224;const sy=i=>1023+i*10.15;const sx=v=>x0px+v*pxPer;
mk('rect',{x:fx0,y:yT,width:fx1-fx0,height:yB-yT,fill:'none',stroke:'#333','stroke-width':1.3},g);
terms.forEach((t,i)=>{tx(fx0-3,sy(i)+3,t,7.5,{anchor:'end'},g);mk('line',{x1:fx0-2,y1:sy(i),x2:fx0,y2:sy(i),stroke:'#333'},g);
const c=mk('circle',{cx:sx(ratio[i]),cy:sy(i),r:rScale(count[i]),fill:pColor(pv[i],pLo,pHi)},g);

});
xticks.forEach(t=>{mk('line',{x1:sx(t),y1:yB,x2:sx(t),y2:yB+3,stroke:'#333'},g);tx(sx(t)+3,yB+6,String(t),8,{anchor:'end',rot:-90},g);});
tx((fx0+fx1)/2,1257,'Gene ratio',9,{anchor:'middle'},g);
tx(legX,1155,'GeneCount',9,{anchor:'middle'},g);
leg.forEach((v,k)=>{mk('circle',{cx:legX-6,cy:1167+k*11.5,r:rScale(v),fill:'#111'},g);tx(legX,1171+k*11.5,String(v),9,{},g);});
tx(cbX+4,1160,'−log₁₀(P)',9,{anchor:'middle'},g);
for(let k=0;k<30;k++)mk('rect',{x:cbX-6,y:1166+k*1.85,width:6,height:2,fill:pColor(pHi-(pHi-pLo)*k/29,pLo,pHi)},g);
cLabels.forEach((s,k)=>tx(cbX+3,1171+k*11.5,s,9,{},g));
mk('rect',{x:box[0],y:box[1],width:box[2],height:box[3],fill:'none',stroke:'#e02020','stroke-dasharray':'2,2','stroke-width':1},g);}
dotPlot('go-dotplot-1',o1Terms,o1Ratio,o1Count,o1P,310,428,298.5,255,o1XTicks,c=>1.2+c*0.75,o1Leg,o1CLabels,1.5,3.5,404,453,[233,1015,77,22]);
dotPlot('go-dotplot-2',o2Terms,o2Ratio,o2Count,o2P,558,679,551,202,o2XTicks,c=>1+c*0.075,o2Leg,o2CLabels,2.8,3.6,654,699,[493,1015,63,12]);
</script>
</body></html>
